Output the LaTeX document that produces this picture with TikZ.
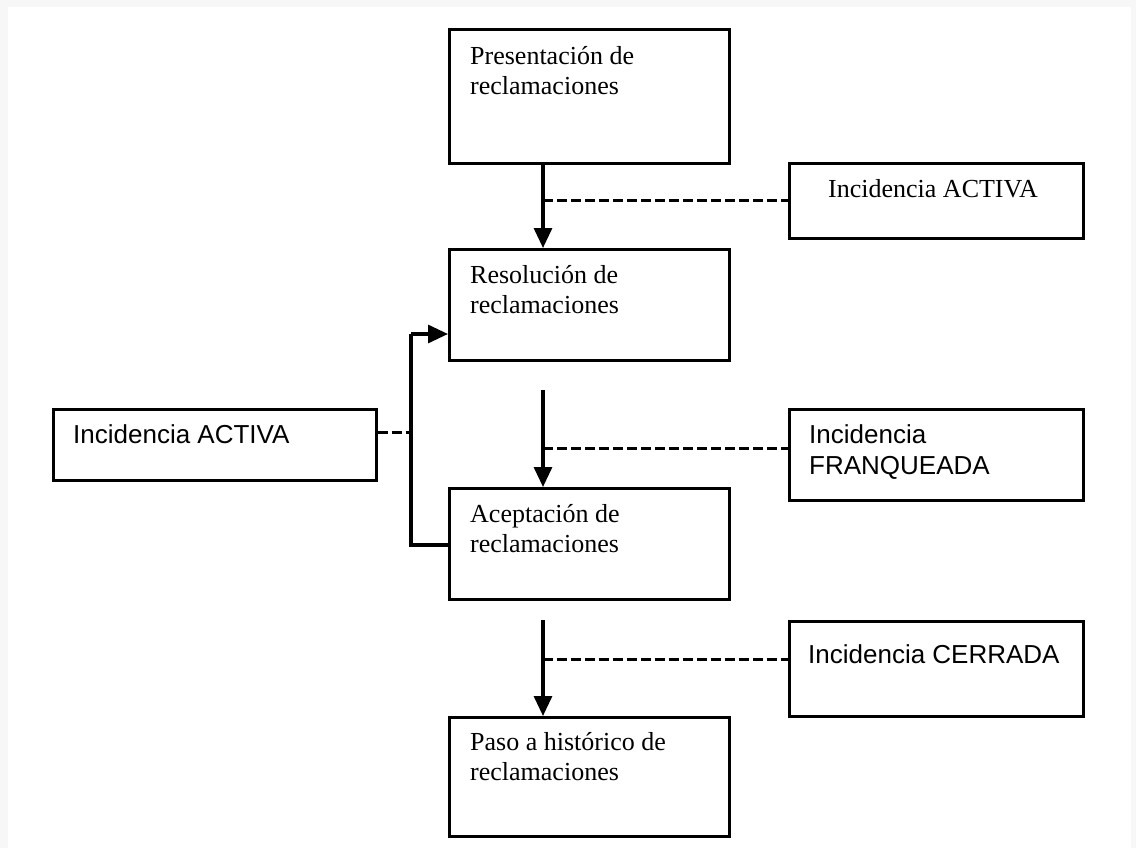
\documentclass[tikz,border=0pt]{standalone}
\usepackage{fontspec}
\setmainfont{Liberation Serif}
\setsansfont{Liberation Sans}
\usetikzlibrary{arrows.meta}
\definecolor{framegrey}{HTML}{F7F7F7}
\tikzset{
  box/.style={draw=black, line width=2.6pt, fill=white, inner sep=0pt, anchor=north west},
  txt/.style={anchor=base west, inner sep=0pt, font=\fontsize{26}{30}\selectfont},
  sanstxt/.style={txt, font=\fontsize{26}{31}\selectfont\sffamily},
  arr/.style={line width=3.2pt, -{Triangle[length=20pt,width=18pt]}},
  flow/.style={line width=3.2pt},
  dsh/.style={line width=3pt, dash pattern=on 10pt off 4pt}
}
\newcommand{\twol}[2]{\parbox[t]{300pt}{#1\\#2}}
\begin{document}
\begin{tikzpicture}[x=1pt,y=-1pt]
\useasboundingbox (0,0) rectangle (1136,848);
\fill[framegrey] (0,0) rectangle (1136,848);
\fill[white] (8,7) rectangle (1131,848);

% main process boxes
\node[box, minimum width=280pt, minimum height=134pt] (P) at (448,28) {};
\node[box, minimum width=280pt, minimum height=111pt] (R) at (448,248) {};
\node[box, minimum width=280pt, minimum height=111pt] (Ac) at (448,487) {};
\node[box, minimum width=280pt, minimum height=119pt] (H) at (448,716) {};

% incidence boxes
\node[box, minimum width=294pt, minimum height=75pt] (A1) at (788,162) {};
\node[box, minimum width=323pt, minimum height=71pt] (L) at (52,408) {};
\node[box, minimum width=294pt, minimum height=91pt] (F) at (788,408) {};
\node[box, minimum width=294pt, minimum height=95pt] (C) at (788,620) {};

% texts
\node[txt] (Pt) at ([xshift=22pt,yshift=-37pt]P.north west) {\twol{Presentación de}{reclamaciones}};
\node[txt] (Rt) at ([xshift=22pt,yshift=-35pt]R.north west) {\twol{Resolución de}{reclamaciones}};
\node[txt] (Act) at ([xshift=22pt,yshift=-35pt]Ac.north west) {\twol{Aceptación de}{reclamaciones}};
\node[txt] (Ht) at ([xshift=22pt,yshift=-34pt]H.north west) {\twol{Paso a histórico de}{reclamaciones}};
\node[txt] (A1t) at ([xshift=40pt,yshift=-35pt]A1.north west) {Incidencia ACTIVA};
\node[sanstxt] (Lt) at ([xshift=21pt,yshift=-35pt]L.north west) {Incidencia ACTIVA};
\node[sanstxt] (Ft) at ([xshift=21pt,yshift=-35pt]F.north west) {\twol{Incidencia}{FRANQUEADA}};
\node[sanstxt] (Ct) at ([xshift=20pt,yshift=-43pt]C.north west) {Incidencia CERRADA};

% vertical flow arrows
\draw[arr] ([xshift=95pt]P.south west) -- ([xshift=95pt]R.north west);
\coordinate (s2) at (543,390);
\draw[arr] (s2) -- (s2 |- Ac.north);
\coordinate (s3) at (543,620);
\draw[arr] (s3) -- (s3 |- H.north);

% feedback loop
\coordinate (fb1) at (411,545);
\coordinate (fb2) at (411,334);
\draw[flow] (fb1 -| Ac.west) -- (fb1) -- (fb2);
\draw[arr] (fb2) -- (fb2 -| R.west);

% dashed links
\coordinate (j1) at (543,201);
\draw[dsh] (j1) -- (j1 -| A1.west);
\coordinate (j2) at (543,448);
\draw[dsh] (j2) -- (j2 -| F.west);
\coordinate (j3) at (543,659);
\draw[dsh] (j3) -- (j3 -| C.west);
\coordinate (j4) at (411,432);
\draw[dsh] (L.east |- j4) -- (j4);
\end{tikzpicture}
\end{document}
